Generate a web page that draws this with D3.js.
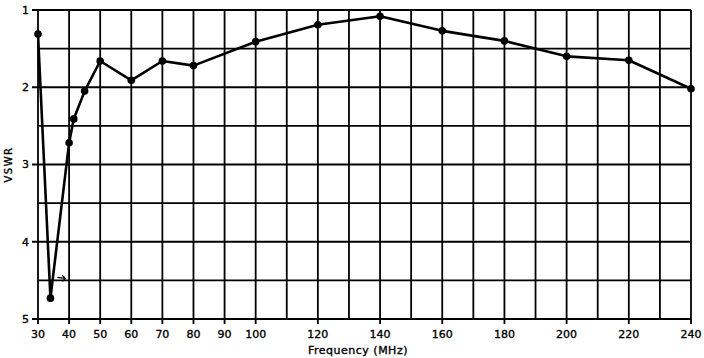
<!DOCTYPE html>
<html>
<head>
<meta charset="utf-8">
<script src="https://cdn.jsdelivr.net/npm/d3@7"></script>
<style>
  body { margin: 0; background: #fff; }
  text { font-family: "DejaVu Sans", sans-serif; fill: #000; stroke: #000; stroke-width: 0.35px; }
</style>
</head>
<body>
<script>
// measured points, frequency in MHz vs VSWR
var freqs = [30, 34, 40, 41.5, 45, 50, 60, 70, 80, 100, 120, 140, 160, 180, 200, 220, 240];
var vswr  = [1.31, 4.73, 2.72, 2.41, 2.05, 1.66, 1.91, 1.66, 1.72, 1.41, 1.19, 1.08, 1.27, 1.40, 1.60, 1.65, 2.02];

var xTickLabels = [30, 40, 50, 60, 70, 80, 90, 100, 120, 140, 160, 180, 200, 220, 240];
var xGrid = d3.range(30, 241, 10);
var yTickLabels = [1, 2, 3, 4, 5];
var yGrid = d3.range(1, 5.01, 0.5);

var width = 704, height = 358;
var margin = { left: 38, right: 13, top: 10, bottom: 39 };

var svg = d3.select("body").append("svg")
  .attr("width", width)
  .attr("height", height);

var x = d3.scaleLinear().domain([30, 240]).range([margin.left, width - margin.right]);
var y = d3.scaleLinear().domain([1, 5]).range([margin.top, height - margin.bottom]);

// grid
svg.append("g").selectAll("line")
  .data(xGrid)
  .enter().append("line")
  .attr("x1", function(d) { return x(d); })
  .attr("x2", function(d) { return x(d); })
  .attr("y1", y(1))
  .attr("y2", function(d) { return xTickLabels.indexOf(d) >= 0 ? y(5) + 5 : y(5); })
  .attr("stroke", "#000")
  .attr("stroke-width", 1.8);

svg.append("g").selectAll("line")
  .data(yGrid)
  .enter().append("line")
  .attr("x1", function(d) { return d % 1 === 0 ? x(30) - 6 : x(30); })
  .attr("x2", x(240))
  .attr("y1", function(d) { return y(d); })
  .attr("y2", function(d) { return y(d); })
  .attr("stroke", "#000")
  .attr("stroke-width", 1.8);

// tick labels
svg.append("g").selectAll("text")
  .data(xTickLabels)
  .enter().append("text")
  .attr("x", function(d) { return x(d); })
  .attr("y", y(5) + 19)
  .attr("text-anchor", "middle")
  .attr("font-size", 11)
  .text(function(d) { return d; });

svg.append("g").selectAll("text")
  .data(yTickLabels)
  .enter().append("text")
  .attr("x", x(30) - 9)
  .attr("y", function(d) { return y(d); })
  .attr("dy", "0.35em")
  .attr("text-anchor", "end")
  .attr("font-size", 11)
  .text(function(d) { return d; });

svg.append("text")
  .attr("x", 358)
  .attr("y", 354)
  .attr("text-anchor", "middle")
  .attr("font-size", 11)
  .attr("letter-spacing", 0.5)
  .text("Frequency (MHz)");

svg.append("text")
  .attr("transform", "translate(12," + y(3) + ") rotate(-90)")
  .attr("text-anchor", "middle")
  .attr("font-size", 10)
  .attr("letter-spacing", 1.5)
  .text("VSWR");

// small arrow near the minimum, pointing at the 4.5 line
var ax = x(38.8), ay = y(4.5);
svg.append("path")
  .attr("d", "M" + (ax - 8) + "," + (ay - 3) + " L" + ax + "," + (ay - 2) +
             " M" + (ax - 3) + "," + (ay - 5) + " L" + ax + "," + (ay - 2) + " L" + (ax - 3) + "," + (ay + 1))
  .attr("fill", "none")
  .attr("stroke", "#000")
  .attr("stroke-width", 1.3);

// data line
var pts = freqs.map(function(f, i) { return [f, vswr[i]]; });
var line = d3.line()
  .x(function(d) { return x(d[0]); })
  .y(function(d) { return y(d[1]); });

svg.append("path")
  .datum(pts)
  .attr("d", line)
  .attr("fill", "none")
  .attr("stroke", "#000")
  .attr("stroke-width", 2.6)
  .attr("stroke-linejoin", "round");

svg.append("g").selectAll("circle")
  .data(pts)
  .enter().append("circle")
  .attr("cx", function(d) { return x(d[0]); })
  .attr("cy", function(d) { return y(d[1]); })
  .attr("r", 3.8)
  .attr("fill", "#000");
</script>
</body>
</html>
